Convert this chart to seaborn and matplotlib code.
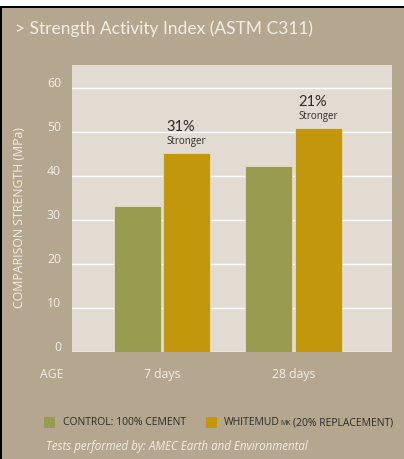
import matplotlib
matplotlib.use("Agg")
import matplotlib.pyplot as plt
import matplotlib.transforms as mtransforms
from matplotlib.patches import Rectangle
import seaborn as sns
import pandas as pd

# ---- data ----
ages = ["7 days", "28 days"]
series = ["CONTROL: 100% CEMENT", "WHITEMUD MK (20% REPLACEMENT)"]
control_values = [33.2, 42.3]
whitemud_values = [45.2, 50.8]
gain_labels = ["31%", "21%"]
y_ticks = [0, 10, 20, 30, 40, 50, 60]

df = pd.DataFrame({
    "age": ages * 2,
    "series": [series[0]] * 2 + [series[1]] * 2,
    "strength": control_values + whitemud_values,
})

# ---- style ----
FIG_BG = "#b5a78f"
AX_BG = "#e2dbd1"
OLIVE = "#979c50"
GOLD = "#c2970b"
LIGHT = "#f3eee5"
DARK = "#2d2a26"
TITLE_FONT = ["Lato", "DejaVu Sans"]
SMALL_FONT = ["Open Sans", "DejaVu Sans"]

sns.set_theme(style="white")
plt.rcParams["font.family"] = SMALL_FONT

W, H = 404, 460
fig = plt.figure(figsize=(W / 100, H / 100), dpi=100, facecolor=FIG_BG)

def px(x0, y0, w, h):
    return [x0 / W, 1 - (y0 + h) / H, w / W, h / H]

# frame: white strip on top, black border top & left
fig.patches.append(Rectangle((0, 1 - 7 / H), 1, 7 / H, transform=fig.transFigure,
                             facecolor="white", edgecolor="none", zorder=0))
fig.patches.append(Rectangle((0, 1 - 9 / H), 1, 2 / H, transform=fig.transFigure,
                             facecolor="black", edgecolor="none", zorder=0))
fig.patches.append(Rectangle((0, 0), 2 / W, 1 - 7 / H, transform=fig.transFigure,
                             facecolor="black", edgecolor="none", zorder=0))

ax = fig.add_axes(px(72, 66, 320, 287))
ax.set_facecolor(AX_BG)

sns.barplot(data=df, x="age", y="strength", hue="series", order=ages,
            hue_order=series, palette=[OLIVE, GOLD], saturation=1,
            width=0.75, gap=0.048, legend=False, ax=ax, zorder=3,
            edgecolor="#e8dcc0", linewidth=0.6)

ax.set_xlim(-0.684, 1.749)
ax.set_ylim(0, 65.2)
ax.set_yticks(y_ticks)
ax.grid(axis="y", color="white", linewidth=1.0, zorder=1)
ax.set_axisbelow(True)
for s in ax.spines.values():
    s.set_visible(False)
ax.tick_params(axis="both", length=0)
ax.tick_params(axis="y", pad=8, labelsize=8.8, labelcolor=LIGHT)
ax.tick_params(axis="x", pad=11, labelsize=8.8, labelcolor=LIGHT)
ax.set_xlabel("")
ax.set_ylabel("")

offset = mtransforms.ScaledTranslation(0, 5 / 72, fig.dpi_scale_trans)
for lab in ax.get_yticklabels():
    lab.set_transform(lab.get_transform() + offset)

# annotations above WHITEMUD bars
bars = sorted(ax.patches, key=lambda p: p.get_x())
gold_bars = [bars[1], bars[3]]
for bar, lab in zip(gold_bars, gain_labels):
    x0 = bar.get_x()
    h = bar.get_height()
    ax.annotate(lab, xy=(x0, h), xytext=(2.5, 19.5), textcoords="offset points",
                ha="left", va="center", fontsize=10.5, color=DARK,
                family=TITLE_FONT)
    ax.annotate("Stronger", xy=(x0, h), xytext=(2.5, 9), textcoords="offset points",
                ha="left", va="center", fontsize=7, color=DARK)

def ftext(x, y, s, **kw):
    return fig.text(x / W, 1 - y / H, s, **kw)

ftext(15, 29, "> Strength Activity Index (ASTM C311)", fontsize=12.5,
      color=LIGHT, ha="left", va="center", family=TITLE_FONT)
ftext(20, 218, "COMPARISON STRENGTH (MPa)", fontsize=8.8, color=LIGHT,
      rotation=90, ha="center", va="center")
ftext(52, 375, "AGE", fontsize=8.8, color=LIGHT, ha="center", va="center")

# legend
fig.patches.append(Rectangle((44 / W, 1 - 429 / H), 11 / W, 11 / H,
                             transform=fig.transFigure, facecolor=OLIVE,
                             edgecolor="none"))
fig.patches.append(Rectangle((206 / W, 1 - 429 / H), 11 / W, 11 / H,
                             transform=fig.transFigure, facecolor=GOLD,
                             edgecolor="none"))
ftext(63, 423, "CONTROL: 100% CEMENT", fontsize=7.5, color=DARK,
      ha="left", va="center")
t1 = ftext(224, 423, "WHITEMUD", fontsize=7.5, color=DARK, ha="left", va="center")
fig.canvas.draw()
r = fig.canvas.get_renderer()
bb = t1.get_window_extent(r)
t2 = fig.text((bb.x1 + 0.5) / W, 1 - 424 / H, "MK", fontsize=5, color=DARK,
              ha="left", va="center")
bb2 = t2.get_window_extent(r)
fig.text((bb2.x1 + 2) / W, 1 - 423 / H, "(20% REPLACEMENT)", fontsize=7.5,
         color=DARK, ha="left", va="center")

ftext(46, 447, "Tests performed by: AMEC Earth and Environmental", fontsize=8.3,
      color=LIGHT, style="italic", ha="left", va="center")

fig.savefig("out.png", dpi=100, facecolor=FIG_BG)
